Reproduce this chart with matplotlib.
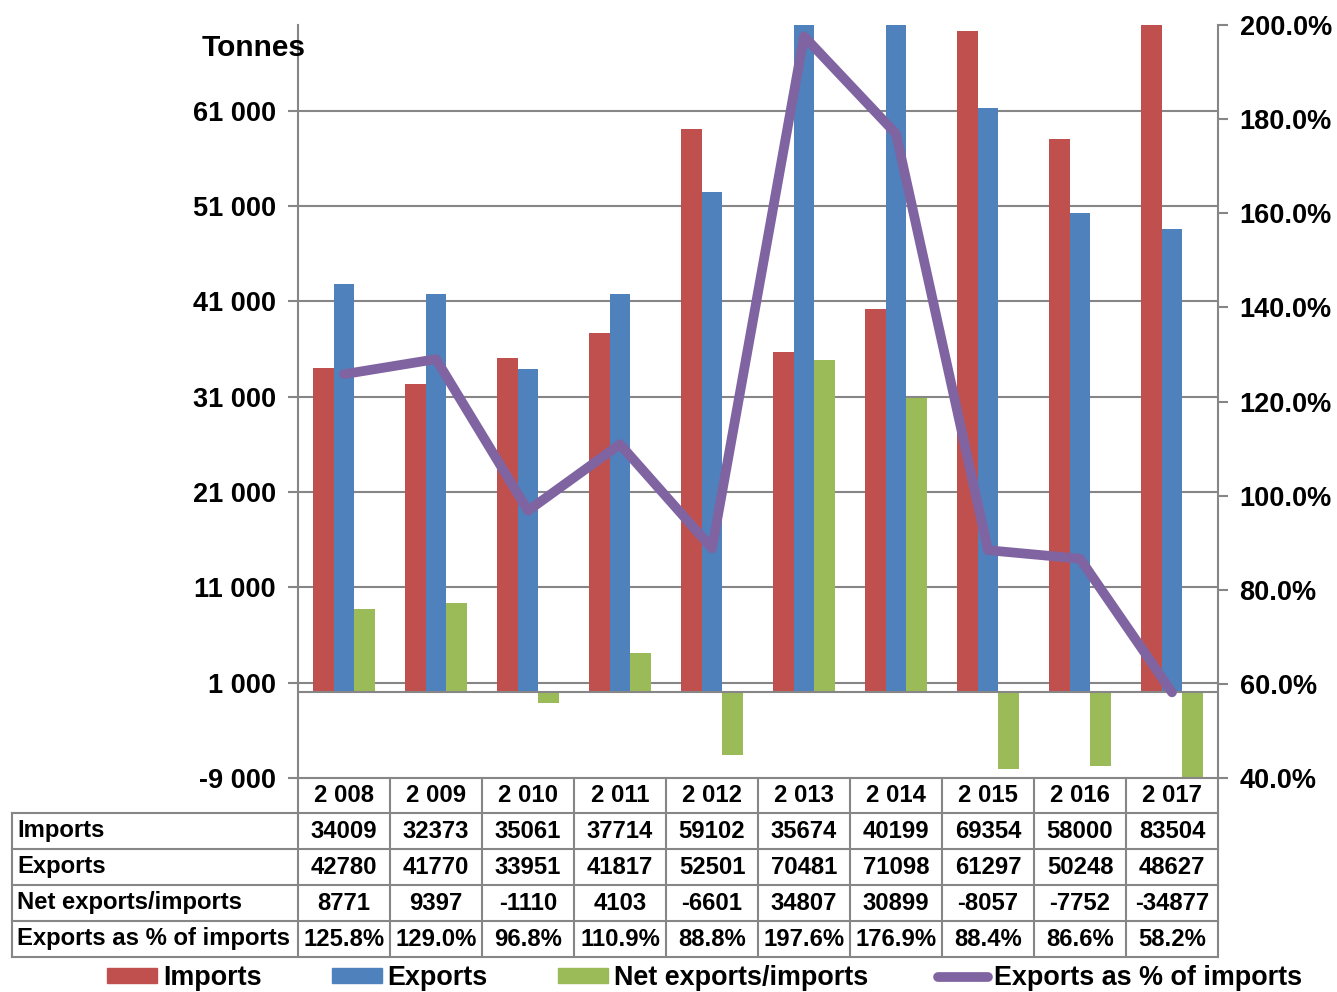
import matplotlib
matplotlib.use("Agg")
import matplotlib.pyplot as plt
from matplotlib.lines import Line2D
from matplotlib.patches import Patch
import matplotlib.transforms as mtransforms
import numpy as np

plt.rcParams['font.family'] = ['Liberation Sans', 'DejaVu Sans']
plt.rcParams['font.weight'] = 'bold'

years = [2008, 2009, 2010, 2011, 2012, 2013, 2014, 2015, 2016, 2017]
imports = [34009, 32373, 35061, 37714, 59102, 35674, 40199, 69354, 58000, 83504]
exports = [42780, 41770, 33951, 41817, 52501, 70481, 71098, 61297, 50248, 48627]
net = [8771, 9397, -1110, 4103, -6601, 34807, 30899, -8057, -7752, -34877]
pct = [125.8, 129.0, 96.8, 110.9, 88.8, 197.6, 176.9, 88.4, 86.6, 58.2]
left_ticks = [-9000, 1000, 11000, 21000, 31000, 41000, 51000, 61000]
right_ticks = [40, 60, 80, 100, 120, 140, 160, 180, 200]

c_imp = '#C0504D'
c_exp = '#4F81BD'
c_net = '#9BBB59'
c_pct = '#8064A2'
gray = '#868686'

W, H = 1337, 992
fig = plt.figure(figsize=(W / 100, H / 100), dpi=100)
L, R, T, B = 298, 1218, 25, 778
ax = fig.add_axes([L / W, 1 - B / H, (R - L) / W, (B - T) / H])
ax2 = ax.twinx()

x = np.arange(len(years))
bw = 0.222
ax.bar(x - bw, imports, bw, color=c_imp, zorder=3)
ax.bar(x, exports, bw, color=c_exp, zorder=3)
ax.bar(x + bw, net, bw, color=c_net, zorder=3)
ax.set_xlim(-0.5, len(years) - 0.5)
ax.set_ylim(-9000, 70000)
ax.set_yticks(left_ticks)
ax.set_yticklabels([f"{v:,}".replace(",", " ") for v in left_ticks])
for t in left_ticks:
    if t > -9000:
        ax.axhline(t, color=gray, lw=1.5, zorder=1)
ax.axhline(0, color=gray, lw=1.5, zorder=4)
ax.set_xticks([])

ax2.plot(x, pct, color=c_pct, lw=7, zorder=5, solid_capstyle='round', solid_joinstyle='round')
ax2.set_ylim(40, 200)
ax2.set_yticks(right_ticks)
ax2.set_yticklabels([f"{v:.1f}%" for v in right_ticks])
ax2.set_zorder(ax.get_zorder() + 1)
ax2.patch.set_visible(False)

for a in (ax, ax2):
    for s in ['top', 'bottom']:
        a.spines[s].set_visible(False)
    a.spines['left'].set_color(gray)
    a.spines['right'].set_color(gray)
    a.spines['left'].set_linewidth(1.5)
    a.spines['right'].set_linewidth(1.5)
    a.tick_params(axis='y', colors=gray, width=1.5, length=7, labelsize=19.5, labelcolor='black')
    a.tick_params(axis='x', length=0)
ax.tick_params(axis='y', pad=9)
ax2.tick_params(axis='y', pad=8.5)
ax2.spines['left'].set_visible(False)
ax.spines['right'].set_visible(False)

fig.text(202 / W, 1 - 48 / H, "Tonnes", fontsize=21.5, fontweight='bold', ha='left', va='center')

# data table
bt = mtransforms.blended_transform_factory(ax.transData, fig.transFigure)
rows_y = [778, 813, 849, 885, 921, 957]
fy = lambda p: 1 - p / H
tlw = 1.5
fig.add_artist(Line2D([L / W, R / W], [fy(rows_y[0])] * 2, color=gray, lw=tlw))
for ry in rows_y[1:]:
    fig.add_artist(Line2D([12 / W, R / W], [fy(ry)] * 2, color=gray, lw=tlw))
for i in range(len(years) + 1):
    fig.add_artist(Line2D([i - 0.5, i - 0.5], [fy(rows_y[0]), fy(rows_y[-1])],
                          color=gray, lw=tlw, transform=bt))
fig.add_artist(Line2D([12 / W, 12 / W], [fy(rows_y[1]), fy(rows_y[-1])], color=gray, lw=tlw))

row_labels = ["Imports", "Exports", "Net exports/imports", "Exports as % of imports"]
row_vals = [
    [str(v) for v in imports],
    [str(v) for v in exports],
    [str(v) for v in net],
    [f"{v:.1f}%" for v in pct],
]
fs = 17.2
for i, yv in enumerate(years):
    yc = fy((rows_y[0] + rows_y[1]) / 2)
    fig.text(i, yc, f"{yv:,}".replace(",", " "), transform=bt, ha='center', va='center',
             fontsize=fs, fontweight='bold')
for r, (lab, vals) in enumerate(zip(row_labels, row_vals)):
    yc = fy((rows_y[r + 1] + rows_y[r + 2]) / 2)
    fig.text(17 / W, yc, lab, ha='left', va='center', fontsize=fs, fontweight='bold')
    for i, v in enumerate(vals):
        fig.text(i, yc, v, transform=bt, ha='center', va='center', fontsize=fs, fontweight='bold')

handles = [Patch(color=c_imp), Patch(color=c_exp), Patch(color=c_net),
           Line2D([], [], color=c_pct, lw=7, solid_capstyle='round')]
labels = ["Imports", "Exports", "Net exports/imports", "Exports as % of imports"]
fig.legend(handles, labels, loc='center', bbox_to_anchor=(704.5 / W, 1 - 978 / H), ncol=4,
           frameon=False, handlelength=1.85, handleheight=0.45,
           handletextpad=0.22, columnspacing=2.6, prop={'weight': 'bold', 'size': 19.4},
           borderpad=0.2)

fig.savefig("out.png", dpi=100)
